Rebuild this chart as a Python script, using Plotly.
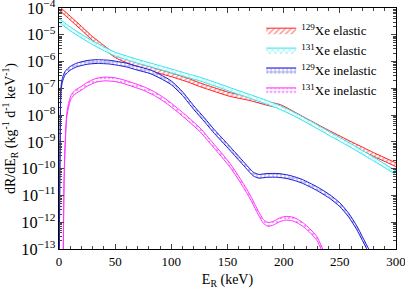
import plotly.graph_objects as go

# ---- data (recoil energy keV, rate kg^-1 d^-1 keV^-1) ----
xe129_el_E = [0, 10, 20, 30, 40, 50, 60, 70, 80, 90, 100, 115, 125, 140, 152, 170, 185, 197, 210, 225, 241, 260, 280, 300]
xe129_el_R = [1.0e-4, 4.2e-5, 1.75e-5, 7.2e-6, 3.4e-6, 1.66e-6, 1.07e-6, 7.6e-7, 5.6e-7, 4.2e-7, 3.2e-7, 2.0e-7,
              1.38e-7, 8.5e-8, 5.9e-8, 4.1e-8, 2.75e-8, 2.1e-8, 1.1e-8, 5.0e-9, 2.2e-9, 8.7e-10, 3.4e-10, 1.4e-10]

xe131_el_E = [0, 10, 20, 30, 40, 50, 60, 70, 80, 90, 100, 115, 125, 140, 152, 170, 185, 197, 210, 225, 241, 260, 280, 300]
xe131_el_R = [3.5e-5, 1.66e-5, 8.9e-6, 5.0e-6, 3.0e-6, 1.9e-6, 1.38e-6, 1.02e-6, 7.8e-7, 5.9e-7, 4.5e-7, 2.95e-7,
              2.24e-7, 1.38e-7, 9.1e-8, 5.0e-8, 3.0e-8, 1.9e-8, 1.05e-8, 4.8e-9, 2.0e-9, 7.2e-10, 2.3e-10, 7.0e-11]

xe129_in_E = [0.3, 0.6, 1.0, 1.8, 3, 5.3, 10, 15.7, 25, 34, 45, 51, 60, 70, 81, 90, 100, 110, 120, 130, 137,
              152, 164, 173, 178, 185, 195, 203, 210, 217, 229, 241, 250, 258, 265, 270, 276]
xe129_in_R = [1e-13, 1e-11, 1e-9, 1.0e-7, 2.0e-7, 3.6e-7, 5.6e-7, 7.4e-7, 9.3e-7, 1.0e-6, 9.5e-7, 8.7e-7, 7.4e-7,
              5.6e-7, 4.2e-7, 2.8e-7, 1.6e-7, 6.3e-8, 1.9e-8, 6.3e-9, 2.8e-9,
              5.8e-10, 1.6e-10, 6.3e-11, 5.2e-11, 5.6e-11, 5.6e-11, 5.0e-11, 4.2e-11, 3.3e-11, 1.86e-11, 9.1e-12,
              4.5e-12, 1.8e-12, 6.3e-13, 2.5e-13, 8e-14]

xe131_in_E = [3.8, 4.5, 5.3, 6.9, 9, 11, 15, 18.7, 25, 33, 41, 50, 58, 66, 75, 85, 95, 105, 115, 125.6, 137,
              152, 161, 170, 176, 182, 186, 191, 196, 201, 207, 212, 217.6, 223, 229.5, 235]
xe131_in_R = [8e-14, 3.2e-11, 5.0e-10, 1.0e-8, 2.8e-8, 5.0e-8, 7.6e-8, 9.3e-8, 1.4e-7, 2.0e-7, 2.24e-7, 2.1e-7,
              1.74e-7, 1.35e-7, 1.0e-7, 6.3e-8, 3.4e-8, 1.6e-8, 7.1e-9, 2.8e-9, 7.8e-10,
              1.38e-10, 3.8e-11, 9.1e-12, 2.9e-12, 1.07e-12, 8.3e-13, 9.3e-13, 1.2e-12, 1.4e-12, 1.35e-12,
              1.12e-12, 7.9e-13, 5.0e-13, 2.5e-13, 8e-14]

series_names = ["<sup>129</sup>Xe elastic", "<sup>131</sup>Xe elastic",
                "<sup>129</sup>Xe inelastic", "<sup>131</sup>Xe inelastic"]

# ---- styles ----
colors = ["#ff2020", "#33e6ee", "#1a1ad9", "#ff33ff"]
patterns = ["/", "x", "+", "."]
band = 10 ** 0.07   # half-width of uncertainty band (multiplicative)

fig = go.Figure()
data = [(xe129_el_E, xe129_el_R), (xe131_el_E, xe131_el_R),
        (xe129_in_E, xe129_in_R), (xe131_in_E, xe131_in_R)]
for (E, R), name, c, p in zip(data, series_names, colors, patterns):
    lo = [r / band for r in R]
    hi = [r * band for r in R]
    fig.add_trace(go.Scatter(x=E, y=lo, mode="lines", line=dict(color=c, width=1, shape="spline", smoothing=0.6),
                             showlegend=False, hoverinfo="skip"))
    fig.add_trace(go.Scatter(x=E, y=hi, mode="lines", line=dict(color=c, width=1, shape="spline", smoothing=0.6),
                             fill="tonexty", fillcolor="white",
                             fillpattern=dict(shape=p, fgcolor=c, bgcolor="white", size=4, solidity=0.35),
                             name=name))

font = "Liberation Serif, Times New Roman, serif"
fig.update_layout(
    width=405, height=290,
    margin=dict(l=59, r=9, t=8, b=41),
    paper_bgcolor="white", plot_bgcolor="white",
    font=dict(family=font, size=13, color="black"),
    legend=dict(x=0.60, y=0.97, xanchor="left", yanchor="top", bgcolor="rgba(0,0,0,0)",
                font=dict(family=font, size=13), tracegroupgap=0, itemwidth=30,
                traceorder="normal"),
    showlegend=True,
)
fig.update_xaxes(range=[0, 300], dtick=50, tick0=0, ticks="inside", ticklen=5, tickwidth=1,
                 minor=dict(dtick=10, ticks="inside", ticklen=3, tickwidth=1),
                 showline=True, linecolor="black", linewidth=1, mirror="allticks",
                 showgrid=False, zeroline=False, tickfont=dict(size=13), automargin=False,
                 ticklabeloverflow="allow",
                 title=dict(text="E<sub>R</sub> (keV)", font=dict(size=14), standoff=6))
fig.update_yaxes(type="log", range=[-13, -4], dtick=1, exponentformat="power",
                 ticks="inside", ticklen=5, tickwidth=1, ticklabeloverflow="allow",
                 minor=dict(dtick="D1", ticks="inside", ticklen=3, tickwidth=1),
                 showline=True, linecolor="black", linewidth=1, mirror="allticks",
                 showgrid=False, zeroline=False, tickfont=dict(size=13), automargin=False,
                 title=dict(text="dR/dE<sub>R</sub> (kg<sup>-1</sup> d<sup>-1</sup> keV<sup>-1</sup>)",
                            font=dict(size=14), standoff=4))

fig.write_html("out.html", config={"displayModeBar": False},
               post_script="document.body.style.margin='0';")
